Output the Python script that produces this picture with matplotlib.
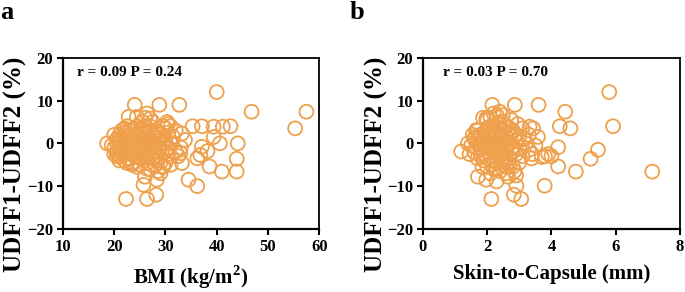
import numpy as np
import matplotlib
matplotlib.use('Agg')
import matplotlib.pyplot as plt

plt.rcParams['font.family'] = 'Liberation Serif'
plt.rcParams['font.weight'] = 'bold'
plt.rcParams['mathtext.fontset'] = 'custom'
plt.rcParams['mathtext.rm'] = 'Liberation Serif:bold'
plt.rcParams['mathtext.bf'] = 'Liberation Serif:bold'

# panel a: BMI vs UDFF difference
bmi = [40, 46.8, 57.5, 55.3, 24, 28.8, 32.7, 22.3, 26.4, 28.2, 36.2, 34.5, 44.1, 43.9, 43.9,
       41, 38.6, 42.7, 41.2, 39.4, 37.1, 35.3, 39.4, 40.6, 37.1, 36.8, 36.2, 38.2,
       25.7, 26, 28.3, 29, 29.6, 22.5, 18.6, 22.8, 24.4, 26.4, 27, 30.3, 31, 33.2, 33.8, 32.9, 33.2,
       20, 20.5, 20, 20.5, 21, 21, 21, 21.5, 21.5, 22, 22, 22, 22.5, 22.5, 22.5, 23, 23, 23, 23.5,
       23.5, 23.5, 24, 24, 24, 24.5, 24.5, 24.5, 25, 25, 25, 25, 25.5, 25.5, 25.5, 26, 26, 26, 26,
       26.5, 26.5, 26.5, 27, 27, 27, 27, 27.5, 27.5, 27.5, 28, 28, 28, 28, 28.5, 28.5, 29, 29, 29,
       29.5, 29.5, 30, 30, 30, 30.5, 30.5, 31, 31, 31.5, 32, 32, 19.5, 20.5, 21.5, 22.5, 23.5, 24.5,
       26.5, 28.5, 29.5, 30, 27.5, 25.5, 24, 23, 22, 21, 26, 28, 29.5, 31, 30.5, 32.5, 33,
       21, 22, 23, 24, 25, 26, 27, 28, 29, 24.5, 25.5, 26.5, 27.5, 23.5, 22.5, 21.5, 20.5, 28.5,
       29, 30, 25, 26, 27, 24, 23, 28, 22, 20, 21, 30.5]
diff_a = [12, 7.4, 7.4, 3.5, 9, 9, 9, -13, -13, -12, -10, -8.5, 0, -3.6, -6.6,
          -6.6, -5.4, 4, 3.9, 3.9, 4, 4, 1.5, 0, -0.8, -2.7, -3.5, -1.8,
          -9.7, -7.8, -8.5, -7, -5.4, -4.6, 0, 6.2, 6.2, 7, 5.8, 5, 4, 2.3, 0.8, -2.3, -4.6,
          2, 1, -1, -2, 0, 2, -3, 1, -1, 2.5, -2, 0, 1.5, -3.5, -1, 3, 0.5, -2.5, -4.5,
          1, -1.5, 2, 0, -3, 4, -1, 1.5, -2, 3, 0, -5, 1, -3, 5, -1, 2, -4, 6,
          0, 3.5, -2.5, 1, -6, 4, -1.5, 2, -3.5, 0, -5, 1.5, -2, 3, 0.5, -4, 2, -1, -3,
          4, 0, -2, 1, -4.5, 2.5, -1, 0, -3, 1.5, -2, 3, -0.5, -3, 3, 4, -5, -5.5,
          -6, -6.5, -5.5, 3.5, 5, -1, -1.5, 1.8, -4, -1.5, 0.8, -0.5, 1.5, -5, 4.5, -3, -1,
          1, 1, -1, 1, 1.5, -2.5, -3, 0, 1, -3, 2.5, -4.5, -1, 3, -2, -2.5, 0, 2.5,
          -4.5, 0, -3.5, 4, 2.5, 3.5, -3.5, -3, 3.5, -2.5, -4, -2.5]

# panel b: skin-to-capsule distance vs UDFF difference
stc = [5.8, 5.92, 7.14, 4.76, 5.22, 5.45, 4.43, 4.59, 4.26, 4.21, 4.21, 3.79, 3.6, 2.86, 2.16,
       2.13, 3.06, 2.83, 2.91, 1.71, 1.19, 1.4, 3.58, 3.32, 3.43, 3.8, 3.9, 4.0, 3.7, 3.38,
       2.39, 2.49, 1.97, 1.87, 1.66, 1.62, 1.97, 2.29, 2.65, 2.7,
       1.6, 1.6, 1.7, 1.7, 1.8, 1.8, 1.8, 1.9, 1.9, 1.9, 2.0, 2.0, 2.0, 2.0, 2.1, 2.1, 2.1, 2.1,
       2.2, 2.2, 2.2, 2.2, 2.3, 2.3, 2.3, 2.3, 2.4, 2.4, 2.4, 2.4, 2.5, 2.5, 2.5, 2.5, 2.6, 2.6,
       2.6, 2.7, 2.7, 2.7, 2.8, 2.8, 2.8, 2.9, 2.9, 3.0, 3.0, 3.1, 3.1, 3.2, 3.3, 3.3, 1.5, 1.65,
       1.75, 1.95, 2.05, 2.15, 2.25, 2.35, 2.45, 2.55, 2.65, 2.75, 2.85, 2.95, 2.0, 2.3, 2.6, 3.4,
       3.5, 1.45, 2.1, 2.4,
       1.8, 1.9, 2.0, 2.1, 2.2, 2.3, 2.4, 2.5, 2.6, 2.7, 2.8, 2.9, 2.2, 2.4, 2.0, 2.6, 2.3, 1.7,
       3.0, 2.5, 2.15, 2.45, 2.35, 1.85, 2.75, 3.15, 1.55, 2.9, 2.2, 2.05]
diff_b = [12, 4, -6.6, -6.6, -3.6, -1.5, 7.4, 3.5, 4, -0.9, -5.4, -9.9, 9, 9, 9,
          -13, -13, -12, -9.9, -7.8, -1.9, 0, 1.5, 3.9, 3.5, -3, -2.5, -3, -3.2, -3.5,
          7.4, 6.6, 5.8, 6, 3.1, 1.5, -8.5, -8.9, -7.8, -5.4,
          1, -2, 3, -3.5, 0, 2, -1.5, 1, -4, -2.5, 0.5, 3.5, -1, -5.5, 2, -3, 0, 6,
          1.5, -2, -6, 4, 0, -1, -4.5, 2.5, 1, -3, 5, -0.5, -2, 3, 0.5, -5, 1.5, -1.5,
          4, 0, -3.5, 2, -1, -5.5, 3, 0.5, -2.5, 1.5, -1, 3.5, -3, 0, 2, -1.5, -0.5, -1,
          1.5, -0.5, -2, 1, -1.5, -2.5, 2, -0.5, -4.5, 5.5, -6.5, 4.5, 5.5, 6.5, -7, -2.5,
          -0.5, -2.5, -7, -6.5,
          -3, 2.5, -3.5, 4, -0.5, 1.5, -1.5, -3.5, 0, 3.5, -2, 2, -4, 3, 1.5, -5.5, -6, 0.5,
          -4.5, 5, -5, -4, 4.5, -5.5, -1.2, 1, 2, -7.5, 7, 2.8]

orange = '#EFA04C'


def panel(ax, x, y, xlim, xticks, xlabel, note, note_x, ylab_x):
    ax.scatter(x, y, s=100, facecolors='none', edgecolors=orange, linewidths=1.3)
    ax.set_xlim(xlim)
    ax.set_ylim(-20, 20)
    ax.set_xticks(xticks)
    ax.set_yticks([-20, -10, 0, 10, 20])
    for side in ['left', 'bottom']:
        ax.spines[side].set_linewidth(1.6)
    for side in ['top', 'right']:
        ax.spines[side].set_linewidth(1.3)
    ax.tick_params(direction='out', length=4.5, width=1.5, labelsize=12, pad=2.5)
    for lab in ax.get_xticklabels() + ax.get_yticklabels():
        lab.set_fontweight('bold')
    ax.set_xlabel(xlabel, fontsize=15, fontweight='bold', labelpad=6.5)
    ax.set_ylabel('UDFF1-UDFF2 (%)', fontsize=18, fontweight='bold')
    ax.yaxis.set_label_coords(ylab_x, 0.38)
    ax.text(note_x, 16.5, note, fontsize=11, fontweight='bold', va='center')


fig = plt.figure(figsize=(6.85, 2.92), dpi=100)
ax1 = fig.add_axes([0.092, 0.216, 0.374, 0.586])
ax2 = fig.add_axes([0.6175, 0.216, 0.375, 0.586])

panel(ax1, bmi, diff_a, (10, 60), [10, 20, 30, 40, 50, 60], 'BMI (kg/m$^{2}$)',
      'r = 0.09 P = 0.24', 12.7, -0.14)
panel(ax2, stc, diff_b, (0, 8), [0, 2, 4, 6, 8], 'Skin-to-Capsule (mm)',
      'r = 0.03 P = 0.70', 0.62, -0.136)

fig.text(0.0, 0.995, 'a', fontsize=19, fontweight='bold', va='top', ha='left')
fig.text(0.511, 0.995, 'b', fontsize=19, fontweight='bold', va='top', ha='left')

fig.savefig('out.png', dpi=100)
